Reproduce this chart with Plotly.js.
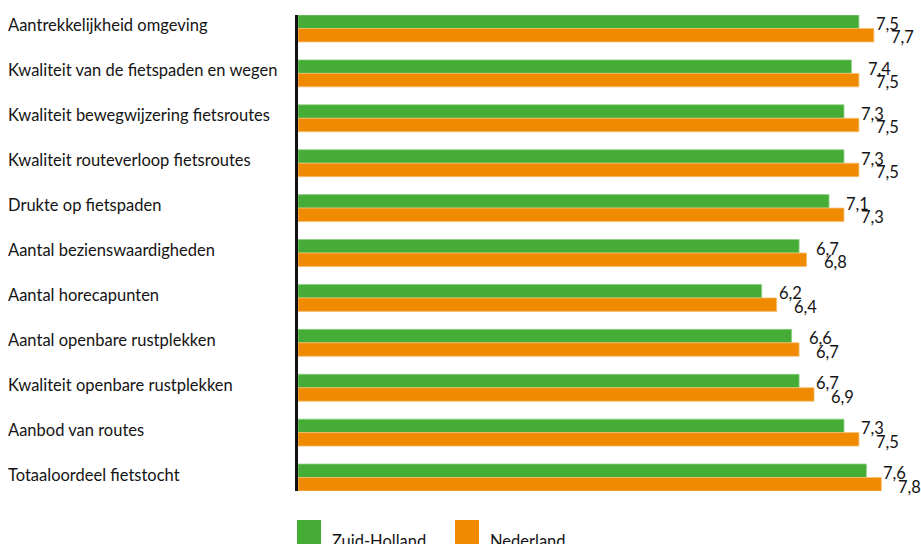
<!DOCTYPE html>
<html>
<head>
<meta charset="utf-8">
<script src="https://cdn.plot.ly/plotly-3.0.1.min.js"></script>
<style>html,body{margin:0;padding:0;background:#fff;}#chart{width:921px;height:544px;}</style>
</head>
<body>
<div id="chart"></div>
<script>
const categories = [
  "Aantrekkelijkheid omgeving",
  "Kwaliteit van de fietspaden en wegen",
  "Kwaliteit bewegwijzering fietsroutes",
  "Kwaliteit routeverloop fietsroutes",
  "Drukte op fietspaden",
  "Aantal bezienswaardigheden",
  "Aantal horecapunten",
  "Aantal openbare rustplekken",
  "Kwaliteit openbare rustplekken",
  "Aanbod van routes",
  "Totaaloordeel fietstocht"
];
const zuidHolland = [7.5, 7.4, 7.3, 7.3, 7.1, 6.7, 6.2, 6.6, 6.7, 7.3, 7.6];
const nederland   = [7.7, 7.5, 7.5, 7.5, 7.3, 6.8, 6.4, 6.7, 6.9, 7.5, 7.8];
const seriesNames = ["Zuid-Holland", "Nederland"];

const GREEN = "#45ad35";
const ORANGE = "#f08a00";
const FONT = "Lato, 'Open Sans', sans-serif";
const TXT = "#141414";
const FS = 16.5;

const fmt = v => v.toFixed(1).replace(".", ",");

const traces = [
  {type: "bar", orientation: "h", name: seriesNames[0], y: categories, x: zuidHolland,
   marker: {color: GREEN, line: {color: "#8fcf85", width: 0.8}}, hoverinfo: "none"},
  {type: "bar", orientation: "h", name: seriesNames[1], y: categories, x: nederland,
   marker: {color: ORANGE, line: {color: "#f7bf73", width: 0.8}}, hoverinfo: "none"}
];

const annotations = [];
categories.forEach((c, i) => {
  annotations.push({xref: "paper", yref: "y", x: 0, y: c, xanchor: "left", yanchor: "middle",
    xshift: -292, yshift: 3, text: c, showarrow: false, font: {family: FONT, size: FS, color: TXT}});
  annotations.push({xref: "x", yref: "y", x: zuidHolland[i], y: c, xanchor: "left", yanchor: "middle",
    xshift: 15, yshift: 4.5, text: fmt(zuidHolland[i]), showarrow: false, font: {family: FONT, size: FS, color: TXT}});
  annotations.push({xref: "x", yref: "y", x: nederland[i], y: c, xanchor: "left", yanchor: "middle",
    xshift: 15, yshift: -9, text: fmt(nederland[i]), showarrow: false, font: {family: FONT, size: FS, color: TXT}});
});
// legend labels
annotations.push({xref: "paper", yref: "paper", x: 0, y: 0, xanchor: "left", yanchor: "middle",
  xshift: 32, yshift: -50, text: seriesNames[0], showarrow: false, font: {family: FONT, size: FS, color: TXT}});
annotations.push({xref: "paper", yref: "paper", x: 0, y: 0, xanchor: "left", yanchor: "middle",
  xshift: 190, yshift: -50, text: seriesNames[1], showarrow: false, font: {family: FONT, size: FS, color: TXT}});

const shapes = [
  {type: "rect", xref: "paper", yref: "paper", xsizemode: "pixel", ysizemode: "pixel",
   xanchor: 0, yanchor: 0, x0: -1, x1: 23, y0: -29, y1: -56, fillcolor: GREEN, line: {width: 0}},
  {type: "rect", xref: "paper", yref: "paper", xsizemode: "pixel", ysizemode: "pixel",
   xanchor: 0, yanchor: 0, x0: 157, x1: 181, y0: -29, y1: -56, fillcolor: ORANGE, line: {width: 0}}
];

const layout = {
  width: 921, height: 544,
  margin: {l: 298, r: 0, t: 15, b: 53, pad: 0},
  paper_bgcolor: "#fff", plot_bgcolor: "#fff",
  barmode: "group", bargap: 0.4, bargroupgap: 0,
  showlegend: false,
  font: {family: FONT, size: FS, color: TXT},
  xaxis: {range: [0, 8.33], showgrid: false, zeroline: false, showticklabels: false, ticks: "", showline: false, fixedrange: true},
  yaxis: {type: "category", categoryorder: "array", categoryarray: categories, range: [10.3, -0.3],
          showgrid: false, zeroline: false, showticklabels: false, ticks: "",
          showline: true, linecolor: "#111", linewidth: 3, fixedrange: true},
  annotations: annotations,
  shapes: shapes
};

Plotly.newPlot("chart", traces, layout, {displayModeBar: false, staticPlot: true});
</script>
</body>
</html>
